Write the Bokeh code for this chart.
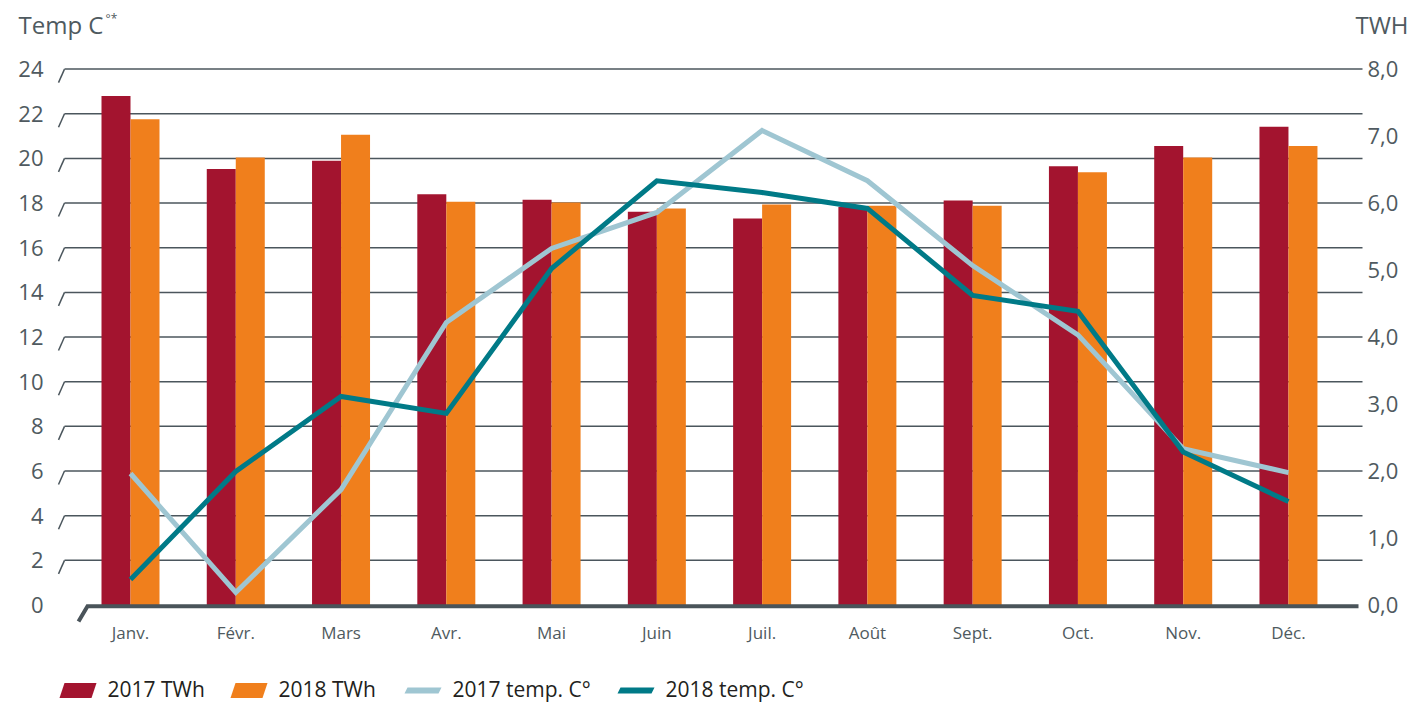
from bokeh.plotting import figure
from bokeh.models import Range1d
from bokeh.embed import file_html
from bokeh.resources import INLINE
from bokeh.core.properties import value

# ---------------- data ----------------
months = ["Janv.", "Févr.", "Mars", "Avr.", "Mai", "Juin", "Juil.", "Août",
          "Sept.", "Oct.", "Nov.", "Déc."]
twh_2017 = [7.60, 6.51, 6.63, 6.13, 6.05, 5.87, 5.77, 5.94, 6.04, 6.55, 6.85, 7.14]
twh_2018 = [7.25, 6.68, 7.02, 6.02, 6.01, 5.92, 5.98, 5.96, 5.96, 6.46, 6.68, 6.85]
temp_2017 = [5.89, 0.56, 5.17, 12.65, 15.97, 17.58, 21.25, 19.0, 15.2, 12.1, 7.0, 5.93]
temp_2018 = [1.14, 5.98, 9.34, 8.58, 15.07, 19.0, 18.47, 17.76, 13.86, 13.15, 6.85, 4.63]
temp_ticks = [0, 2, 4, 6, 8, 10, 12, 14, 16, 18, 20, 22, 24]
temp_tick_labels = ["0", "2", "4", "6", "8", "10", "12", "14", "16", "18", "20", "22", "24"]
twh_ticks = [0, 1, 2, 3, 4, 5, 6, 7, 8]
twh_tick_labels = ["0,0", "1,0", "2,0", "3,0", "4,0", "5,0", "6,0", "7,0", "8,0"]
series_labels = ["2017 TWh", "2018 TWh", "2017 temp. C°", "2018 temp. C°"]
left_title = "Temp C"
left_title_mark = "°*"
right_title = "TWH"

# ---------------- layout constants (pixels) ----------------
W, H = 1410, 703
X0_PX, X_STEP = 130.0, 105.27   # Jan group center, group spacing
Y0_PX, Y_UNIT = 604.5, 22.33    # temp 0 position, px per degree
RATIO = 3.0                     # temp units per TWh unit

def px2x(px):
    return (px - X0_PX) / X_STEP

def px2y(py):
    return (Y0_PX - py) / Y_UNIT

FONT = "Open Sans"
GREY = "#4f5a60"
GRID = "#4b565d"
C17 = "#a3142f"
C18 = "#f07f1c"
L17 = "#9fc6d2"
L18 = "#007a87"

y_lo, y_hi = px2y(H), px2y(0)
p = figure(width=W, height=H, output_backend="svg", toolbar_location=None,
           x_range=Range1d(px2x(0), px2x(W)), y_range=Range1d(y_lo, y_hi),
           x_axis_type=None, y_axis_type=None,
           min_border=0, min_border_left=0, min_border_right=0,
           min_border_top=0, min_border_bottom=0)
p.extra_y_ranges = {"twh": Range1d(y_lo / RATIO, y_hi / RATIO)}
p.outline_line_color = None
p.xgrid.visible = False
p.ygrid.visible = False
p.background_fill_color = "white"
p.border_fill_color = "white"

# ---------------- gridlines with slanted ticks ----------------
g_ticks = [t for t in temp_ticks if t > 0]
gx0 = [px2x(64)] * len(g_ticks)
gx1 = [px2x(1362)] * len(g_ticks)
p.segment(x0=gx0, y0=g_ticks, x1=gx1, y1=g_ticks, line_color=GRID, line_width=1.5)
slant_dy = 13.5 / Y_UNIT
p.segment(x0=[px2x(58)] * len(g_ticks), y0=[t - slant_dy for t in g_ticks],
          x1=gx0, y1=g_ticks, line_color=GRID, line_width=1.5)

# ---------------- bars (TWh scale) ----------------
xs = list(range(len(months)))
bw = 29.0 / X_STEP
p.vbar(x=[x - bw / 2 for x in xs], top=twh_2017, width=bw, bottom=0,
       fill_color=C17, line_color=None, y_range_name="twh")
p.vbar(x=[x + bw / 2 for x in xs], top=twh_2018, width=bw, bottom=0,
       fill_color=C18, line_color=None, y_range_name="twh")

# ---------------- baseline with slanted end ----------------
by = px2y(605.8)
p.line(x=[px2x(78), px2x(87), px2x(1358)], y=[px2y(621), by, by],
       line_color="#4a545a", line_width=4, line_join="miter")

# ---------------- temperature lines ----------------
p.line(x=xs, y=temp_2017, line_color=L17, line_width=5, line_join="miter")
p.line(x=xs, y=temp_2018, line_color=L18, line_width=5, line_join="miter")

# ---------------- axis tick labels ----------------
p.text(x=[px2x(43)] * len(temp_ticks), y=temp_ticks, text=temp_tick_labels,
       text_font=value(FONT), text_font_size="22px", text_color=GREY,
       text_align="right", text_baseline="middle")
p.text(x=[px2x(1367)] * len(twh_ticks), y=twh_ticks, text=twh_tick_labels,
       y_range_name="twh", text_font=value(FONT), text_font_size="22px",
       text_color=GREY, text_align="left", text_baseline="middle")
p.text(x=xs, y=[px2y(632)] * len(xs), text=months,
       text_font=value(FONT), text_font_size="17px", text_color=GREY,
       text_align="center", text_baseline="middle")

# ---------------- axis titles ----------------
p.text(x=[px2x(18)], y=[px2y(24)], text=[left_title], text_font=value(FONT),
       text_font_size="24px", text_color=GREY, text_align="left", text_baseline="middle")
p.text(x=[px2x(105)], y=[px2y(18)], text=[left_title_mark], text_font=value(FONT),
       text_font_size="12px", text_color=GREY, text_align="left", text_baseline="middle")
p.text(x=[px2x(1408)], y=[px2y(24)], text=[right_title], text_font=value(FONT),
       text_font_size="24px", text_color=GREY, text_align="right", text_baseline="middle")

# ---------------- legend ----------------
leg_x = [59, 230, 404, 617]
leg_y = 690
leg_colors = [C17, C18, L17, L18]
leg_half_h = [7.5, 7.5, 3, 3]
leg_slant = [5, 5, 3, 3]
lx_list, ly_list = [], []
for lx, hh, sl in zip(leg_x, leg_half_h, leg_slant):
    lx_list.append([px2x(lx + sl), px2x(lx + 37), px2x(lx + 37 - sl), px2x(lx)])
    ly_list.append([px2y(leg_y - hh), px2y(leg_y - hh), px2y(leg_y + hh), px2y(leg_y + hh)])
p.patches(xs=lx_list, ys=ly_list, fill_color=leg_colors, line_color=None)
p.text(x=[px2x(lx + 48) for lx in leg_x], y=[px2y(leg_y - 2)] * 4, text=series_labels,
       text_font=value(FONT), text_font_size="21px", text_color="#231f20",
       text_baseline="middle", text_align="left")

open("out.html", "w").write(file_html(p, INLINE))
